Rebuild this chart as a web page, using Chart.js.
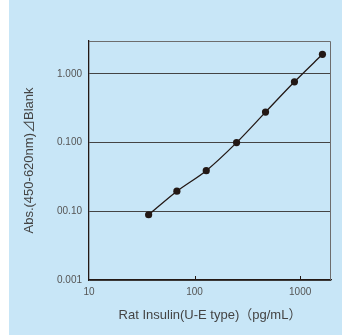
<!DOCTYPE html>
<html>
<head>
<meta charset="utf-8">
<script src="https://cdn.jsdelivr.net/npm/chart.js@4"></script>
<style>
  html, body { margin: 0; padding: 0; background: #fff; }
  canvas { display: block; }
</style>
</head>
<body>
<canvas id="chart" width="342" height="335"></canvas>
<script>
// values
const concentrations = [36.7, 68, 129, 250, 470, 883, 1626];
const absorbance = [0.0089, 0.0196, 0.039, 0.0998, 0.277, 0.765, 1.92];
const xTickValues = [10, 100, 1000];
const xTickLabels = ['10', '100', '1000'];
const yTickValues = [0.001, 0.01, 0.1, 1];
const yTickLabels = ['0.001', '00.10', '0.100', '1.000'];

const ink = '#231815';
const tickFont = { family: "'Liberation Sans Narrow', 'Arial Narrow', 'Liberation Sans', sans-serif", size: 10 };
const titleFont = { family: "'Liberation Sans', Arial, 'Noto Sans CJK JP', sans-serif", size: 13 };

const panel = {
  id: 'panel',
  beforeDraw(chart) {
    const ctx = chart.ctx;
    ctx.save();
    ctx.fillStyle = '#c8e6f7';
    ctx.fillRect(9, 0, chart.width - 9, chart.height);
    ctx.restore();
  },
  afterDraw(chart) {
    const { ctx, chartArea: a } = chart;
    const xs = chart.scales.x;
    ctx.save();
    // top and right frame
    ctx.strokeStyle = '#6d6d6d';
    ctx.lineWidth = 1;
    ctx.beginPath();
    ctx.moveTo(a.left, a.top + 0.5);
    ctx.lineTo(a.right - 0.5, a.top + 0.5);
    ctx.lineTo(a.right - 0.5, a.bottom);
    ctx.stroke();
    // short inner ticks on the x axis
    ctx.strokeStyle = ink;
    ctx.beginPath();
    xTickValues.slice(1).forEach(v => {
      const px = Math.round(xs.getPixelForValue(v)) + 0.5;
      ctx.moveTo(px, a.bottom);
      ctx.lineTo(px, a.bottom - 4);
    });
    ctx.stroke();
    ctx.restore();
  }
};

new Chart(document.getElementById('chart'), {
  type: 'line',
  data: {
    datasets: [{
      data: concentrations.map((c, i) => ({ x: c, y: absorbance[i] })),
      borderColor: ink,
      borderWidth: 1.3,
      backgroundColor: ink,
      pointRadius: 3.6,
      pointBorderWidth: 0,
      tension: 0.3,
      fill: false
    }]
  },
  options: {
    responsive: false,
    animation: false,
    devicePixelRatio: 1,
    layout: { padding: { top: 41, right: 11, left: 0, bottom: 0 } },
    plugins: { legend: { display: false }, tooltip: { enabled: false } },
    scales: {
      x: {
        type: 'logarithmic',
        min: 10,
        max: 1960,
        afterFit: s => { s.height = 55; },
        afterBuildTicks: s => { s.ticks = xTickValues.map(v => ({ value: v })); },
        grid: { drawOnChartArea: false, drawTicks: false },
        border: { color: ink, width: 1.3 },
        ticks: {
          padding: 6,
          color: '#555',
          font: tickFont,
          autoSkip: false,
          maxRotation: 0,
          callback: v => xTickLabels[xTickValues.indexOf(v)]
        },
        title: {
          display: true,
          text: 'Rat Insulin(U-E type)（pg/mL）',
          color: '#444',
          font: titleFont,
          padding: { top: 0, bottom: 12 }
        }
      },
      y: {
        type: 'logarithmic',
        min: 0.001,
        max: 3,
        afterFit: s => { s.width = 89; },
        afterBuildTicks: s => { s.ticks = yTickValues.map(v => ({ value: v })); },
        grid: { color: '#444', lineWidth: 1, drawTicks: false },
        border: { color: ink, width: 1.3 },
        ticks: {
          padding: 7,
          color: '#555',
          font: tickFont,
          autoSkip: false,
          callback: v => yTickLabels[yTickValues.indexOf(v)]
        },
        title: {
          display: true,
          text: 'Abs.(450-620nm)⊿Blank',
          color: '#444',
          font: titleFont,
          padding: { top: 22, bottom: 0 }
        }
      }
    }
  },
  plugins: [panel]
});
</script>
</body>
</html>
